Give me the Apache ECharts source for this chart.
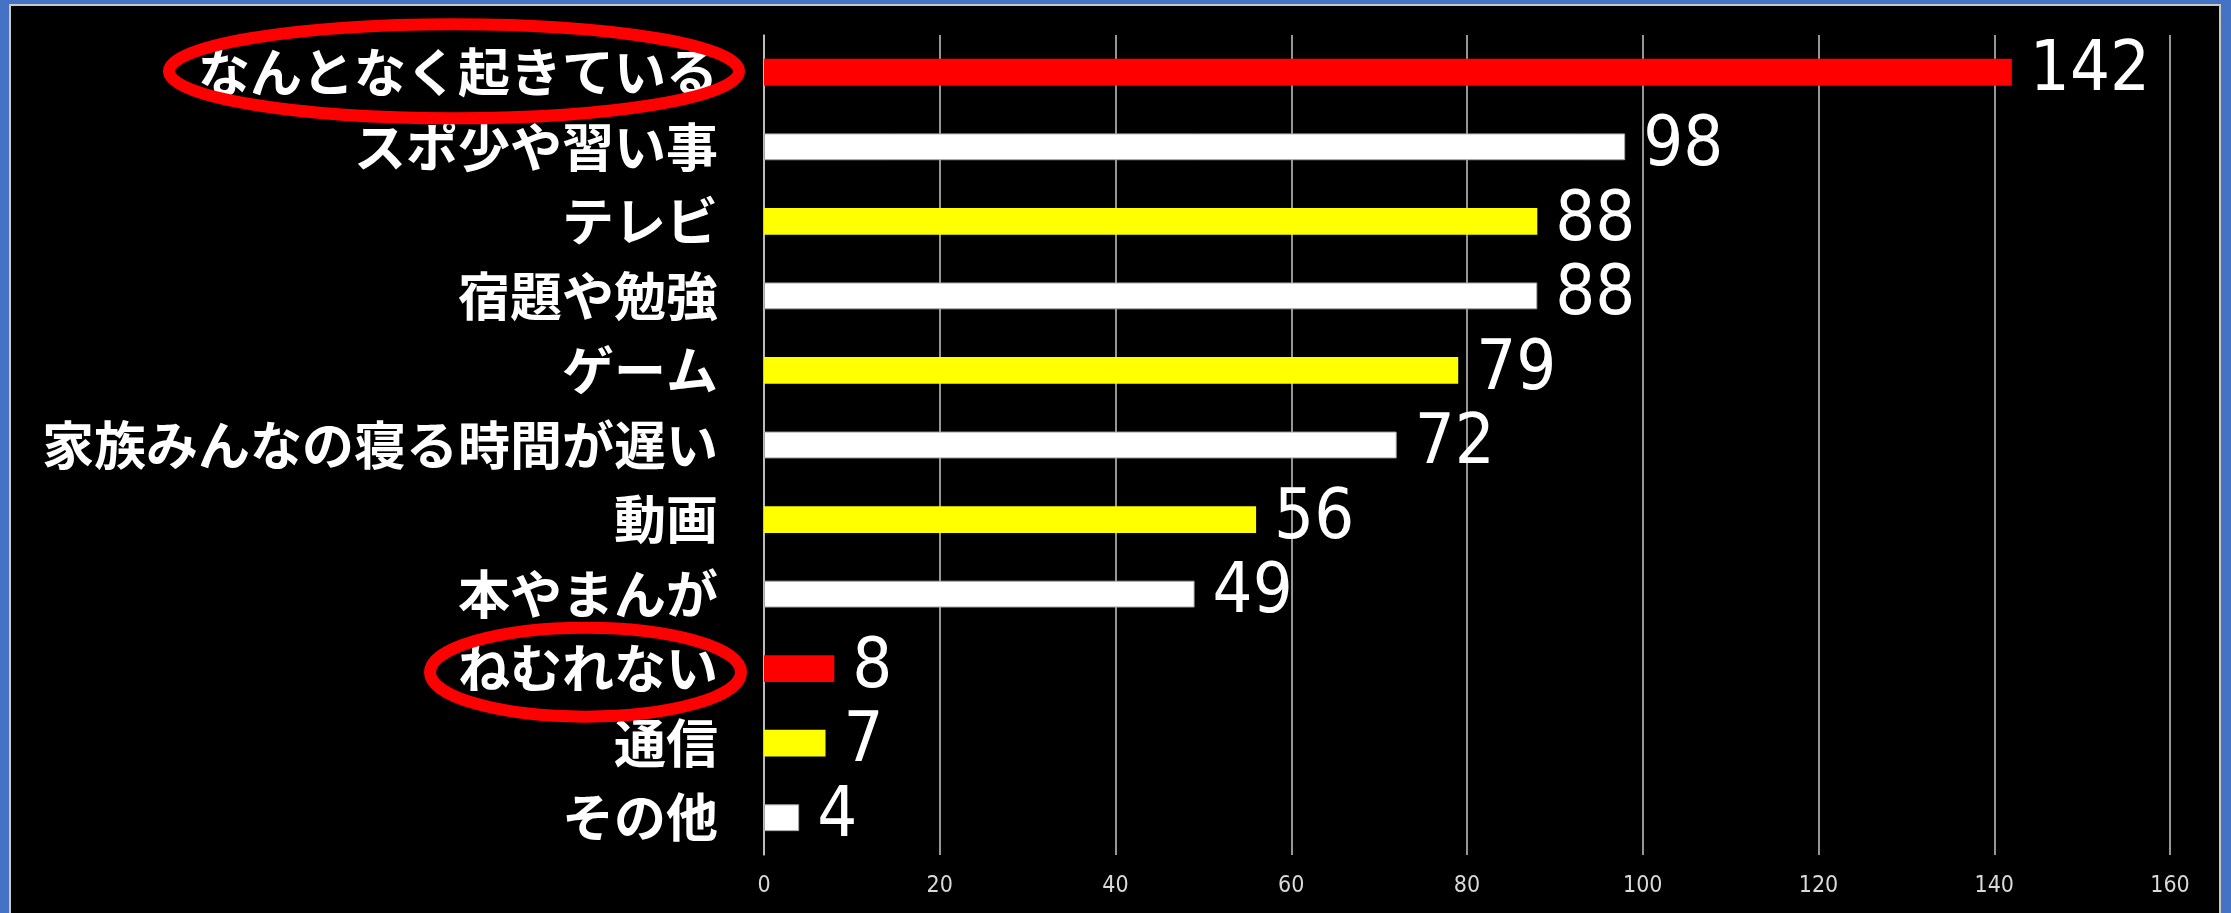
<!DOCTYPE html>
<html>
<head>
<meta charset="utf-8">
<script src="https://cdn.jsdelivr.net/npm/echarts@6/dist/echarts.min.js"></script>
<style>
  html, body { margin: 0; padding: 0; width: 2231px; height: 913px; overflow: hidden; background: #4472C4; }
  #frame { position: absolute; left: 9px; top: 4px; width: 2208px; height: 913px; background: #000; border-left: 2px solid #c8c8c8; border-top: 2px solid #c8c8c8; border-right: 2px solid #c8c8c8; }
  #chart { position: absolute; left: 0; top: 0; width: 2231px; height: 913px; }
</style>
</head>
<body>
<div id="frame"></div>
<div id="chart"></div>
<script>
const categories = ['なんとなく起きている', 'スポ少や習い事', 'テレビ', '宿題や勉強', 'ゲーム', '家族みんなの寝る時間が遅い', '動画', '本やまんが', 'ねむれない', '通信', 'その他'];
const values = [142, 98, 88, 88, 79, 72, 56, 49, 8, 7, 4];
const xTicks = [0, 20, 40, 60, 80, 100, 120, 140, 160];
const highlighted = ['なんとなく起きている', 'ねむれない'];
const barColors = ['#FF0000', '#FFFFFF', '#FFFF00', '#FFFFFF', '#FFFF00', '#FFFFFF', '#FFFF00', '#FFFFFF', '#FF0000', '#FFFF00', '#FFFFFF'];

const chart = echarts.init(document.getElementById('chart'), null, { renderer: 'canvas' });

const seriesData = values.map((v, i) => ({
  value: v,
  itemStyle: {
    color: barColors[i],
    borderColor: barColors[i] === '#FFFFFF' ? '#a6a6a6' : barColors[i],
    borderWidth: barColors[i] === '#FFFFFF' ? 1 : 0
  }
}));

const condensed = '"DejaVu Sans Condensed", "Roboto Condensed", "Liberation Sans Narrow", sans-serif';

const option = {
  backgroundColor: 'transparent',
  animation: false,
  grid: { left: 764, right: 61, top: 35, bottom: 58, containLabel: false },
  xAxis: {
    type: 'value',
    min: xTicks[0],
    max: xTicks[xTicks.length - 1],
    interval: xTicks[1] - xTicks[0],
    axisLine: { show: false },
    axisTick: { show: false },
    splitLine: { show: true, lineStyle: { color: '#c8c8c8', width: 1.5 } },
    axisLabel: { color: '#d9d9d9', fontSize: 23, fontFamily: condensed, margin: 20 }
  },
  yAxis: {
    type: 'category',
    data: categories,
    inverse: true,
    axisLine: { show: true, lineStyle: { color: '#c8c8c8', width: 1.5 } },
    axisTick: { show: false },
    axisLabel: { color: '#ffffff', fontSize: 52, fontFamily: 'Noto Sans CJK JP', fontWeight: 'bold', margin: 46 }
  },
  series: [{
    type: 'bar',
    data: seriesData,
    barWidth: '36%',
    label: {
      show: true,
      position: 'right',
      distance: 18,
      color: '#ffffff',
      fontSize: 70,
      fontFamily: condensed
    }
  }]
};
chart.setOption(option);

function cy(name) { return chart.convertToPixel({ yAxisIndex: 0 }, name); }
const ellipseSpecs = [
  { name: highlighted[0], cx: 454, rx: 285, ry: 47, dy: -1 },
  { name: highlighted[1], cx: 585.5, rx: 155.5, ry: 44.5, dy: 3.5 }
];
chart.setOption({
  graphic: ellipseSpecs.map(e => ({
    type: 'ellipse',
    z: 100,
    shape: { cx: e.cx, cy: cy(e.name) + e.dy, rx: e.rx, ry: e.ry },
    style: { fill: 'none', stroke: '#FF0000', lineWidth: 12 }
  }))
});
</script>
</body>
</html>
